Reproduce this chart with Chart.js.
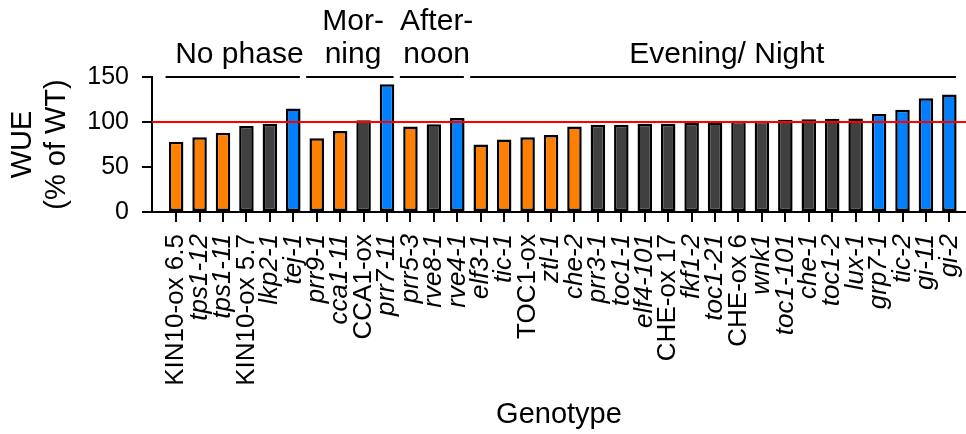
<!DOCTYPE html>
<html>
<head>
<meta charset="utf-8">
<title>WUE by genotype</title>
<script src="https://cdn.jsdelivr.net/npm/chart.js@4.4.1/dist/chart.umd.min.js"></script>
<style>
  html, body { margin: 0; padding: 0; background: #fff; }
  #wrap { width: 966px; height: 434px; }
</style>
</head>
<body>
<div id="wrap"><canvas id="wueChart" width="966" height="434"></canvas></div>
<script>
// WUE of each genotype, as % of wild type
const genotypes = [
  'KIN10-ox 6.5', 'tps1-12', 'tps1-11', 'KIN10-ox 5.7', 'lkp2-1', 'tej-1',
  'prr9-1', 'cca1-11', 'CCA1-ox', 'prr7-11',
  'prr5-3', 'rve8-1', 'rve4-1',
  'elf3-1', 'tic-1', 'TOC1-ox', 'ztl-1', 'che-2', 'prr3-1', 'toc1-1', 'elf4-101',
  'CHE-ox 17', 'fkf1-2', 'toc1-21', 'CHE-ox 6', 'wnk1', 'toc1-101', 'che-1',
  'toc1-2', 'lux-1', 'grp7-1', 'tic-2', 'gi-11', 'gi-2'
];
const wue = [
  78, 83, 88, 95.5, 98, 115,
  82, 90, 102, 142,
  95, 97.5, 104.5,
  75, 80.5, 83, 85.5, 95, 97, 97, 98,
  98, 99, 99.5, 101.5, 101.5, 102.5, 103,
  103.5, 104, 109, 113.5, 126.5, 130.5
];
// change vs WT: down = lower, ns = unchanged, up = higher
const effect = [
  'down', 'down', 'down', 'ns', 'ns', 'up',
  'down', 'down', 'ns', 'up',
  'down', 'ns', 'up',
  'down', 'down', 'down', 'down', 'down', 'ns', 'ns', 'ns',
  'ns', 'ns', 'ns', 'ns', 'ns', 'ns', 'ns',
  'ns', 'ns', 'up', 'up', 'up', 'up'
];

// circadian phase groups (first/last bar index)
const groupNames = [['No phase'], ['Mor-', 'ning'], ['After-', 'noon'], ['Evening/ Night']];
const groupFirst = [0, 6, 10, 13];
const groupLast = [5, 9, 12, 33];

const yTicks = [0, 50, 100, 150];
const wtLevel = 100;

const FONT = '"Liberation Sans", Arial, Helvetica, sans-serif';
const fills = { down: '#ff8000', ns: '#404040', up: '#0080ff' };

// red reference line at WT level, over the bars
const wtLine = {
  id: 'wtLine',
  afterDatasetsDraw(chart) {
    const { ctx, chartArea, scales: { y } } = chart;
    const py = y.getPixelForValue(wtLevel);
    ctx.save();
    ctx.strokeStyle = '#ff0000';
    ctx.lineWidth = 2;
    ctx.beginPath();
    ctx.moveTo(chartArea.left, py);
    ctx.lineTo(chart.width, py);
    ctx.stroke();
    ctx.restore();
  }
};

// phase brackets + names above the plot
const phaseGroups = {
  id: 'phaseGroups',
  afterDraw(chart, args, opts) {
    const { ctx, chartArea, scales: { x } } = chart;
    const top = chartArea.top;
    ctx.save();
    ctx.strokeStyle = '#000';
    ctx.fillStyle = '#000';
    ctx.lineWidth = 2;
    ctx.font = '30px ' + FONT;
    ctx.textAlign = 'center';
    ctx.textBaseline = 'alphabetic';
    groupNames.forEach((lines, i) => {
      const x0 = x.getPixelForValue(groupFirst[i] - 0.45);
      const x1 = x.getPixelForValue(groupLast[i] + 0.28);
      ctx.beginPath();
      ctx.moveTo(x0, top);
      ctx.lineTo(x1, top);
      ctx.stroke();
      const cx = x.getPixelForValue((groupFirst[i] + groupLast[i]) / 2 + opts.nudge[i]);
      lines.slice().reverse().forEach((t, k) => ctx.fillText(t, cx, top - 14 - k * 33));
    });
    ctx.restore();
  }
};

new Chart(document.getElementById('wueChart'), {
  type: 'bar',
  data: {
    datasets: [{
      data: wue.map((v, i) => ({ x: i, y: v })),
      backgroundColor: effect.map(e => fills[e]),
      borderColor: '#000',
      borderWidth: 2.5,
      borderSkipped: false,
      barPercentage: 0.62,
      categoryPercentage: 1
    }]
  },
  options: {
    responsive: false,
    animation: false,
    layout: { padding: { left: 6, top: 77, right: 0, bottom: 0 } },
    plugins: {
      legend: { display: false },
      tooltip: { enabled: false },
      phaseGroups: { nudge: [0.2, 0.05, 0.12, 0.5] }
    },
    scales: {
      x: {
        type: 'linear',
        offset: false,
        min: -1.03,
        max: 33.71,
        afterBuildTicks: axis => { axis.ticks = genotypes.map((_, i) => ({ value: i })); },
        // long rotated names: the default height cap is too small, and no side padding
        afterFit: axis => {
          axis.height = 222;
          axis.paddingLeft = 0;
          axis.paddingRight = 0;
        },
        grid: { offset: false, drawOnChartArea: false, drawTicks: true, tickLength: 10, color: '#000', lineWidth: 2 },
        border: { color: '#000', width: 2 },
        ticks: {
          autoSkip: false,
          minRotation: 90,
          maxRotation: 90,
          padding: 12,
          color: '#000',
          font: ctx => ({
            family: FONT,
            size: 26,
            style: /-ox/.test(genotypes[ctx.index] || '') ? 'normal' : 'italic'
          }),
          callback: v => genotypes[v]
        },
        title: {
          display: true,
          text: 'Genotype',
          color: '#000',
          font: { family: FONT, size: 29 },
          padding: { top: 0, bottom: 2 }
        }
      },
      y: {
        min: 0,
        max: 150,
        afterBuildTicks: axis => { axis.ticks = yTicks.map(v => ({ value: v })); },
        afterFit: axis => { axis.width = 146; },
        grid: { drawOnChartArea: false, drawTicks: true, tickLength: 10, color: '#000', lineWidth: 2 },
        border: { color: '#000', width: 2 },
        ticks: { color: '#000', padding: 13, font: { family: FONT, size: 25 } },
        title: {
          display: true,
          text: ['WUE', '(% of WT)'],
          color: '#000',
          font: { family: FONT, size: 29, lineHeight: 1.17 },
          padding: { top: 0, bottom: 12 }
        }
      }
    }
  },
  plugins: [wtLine, phaseGroups]
});
</script>
</body>
</html>
